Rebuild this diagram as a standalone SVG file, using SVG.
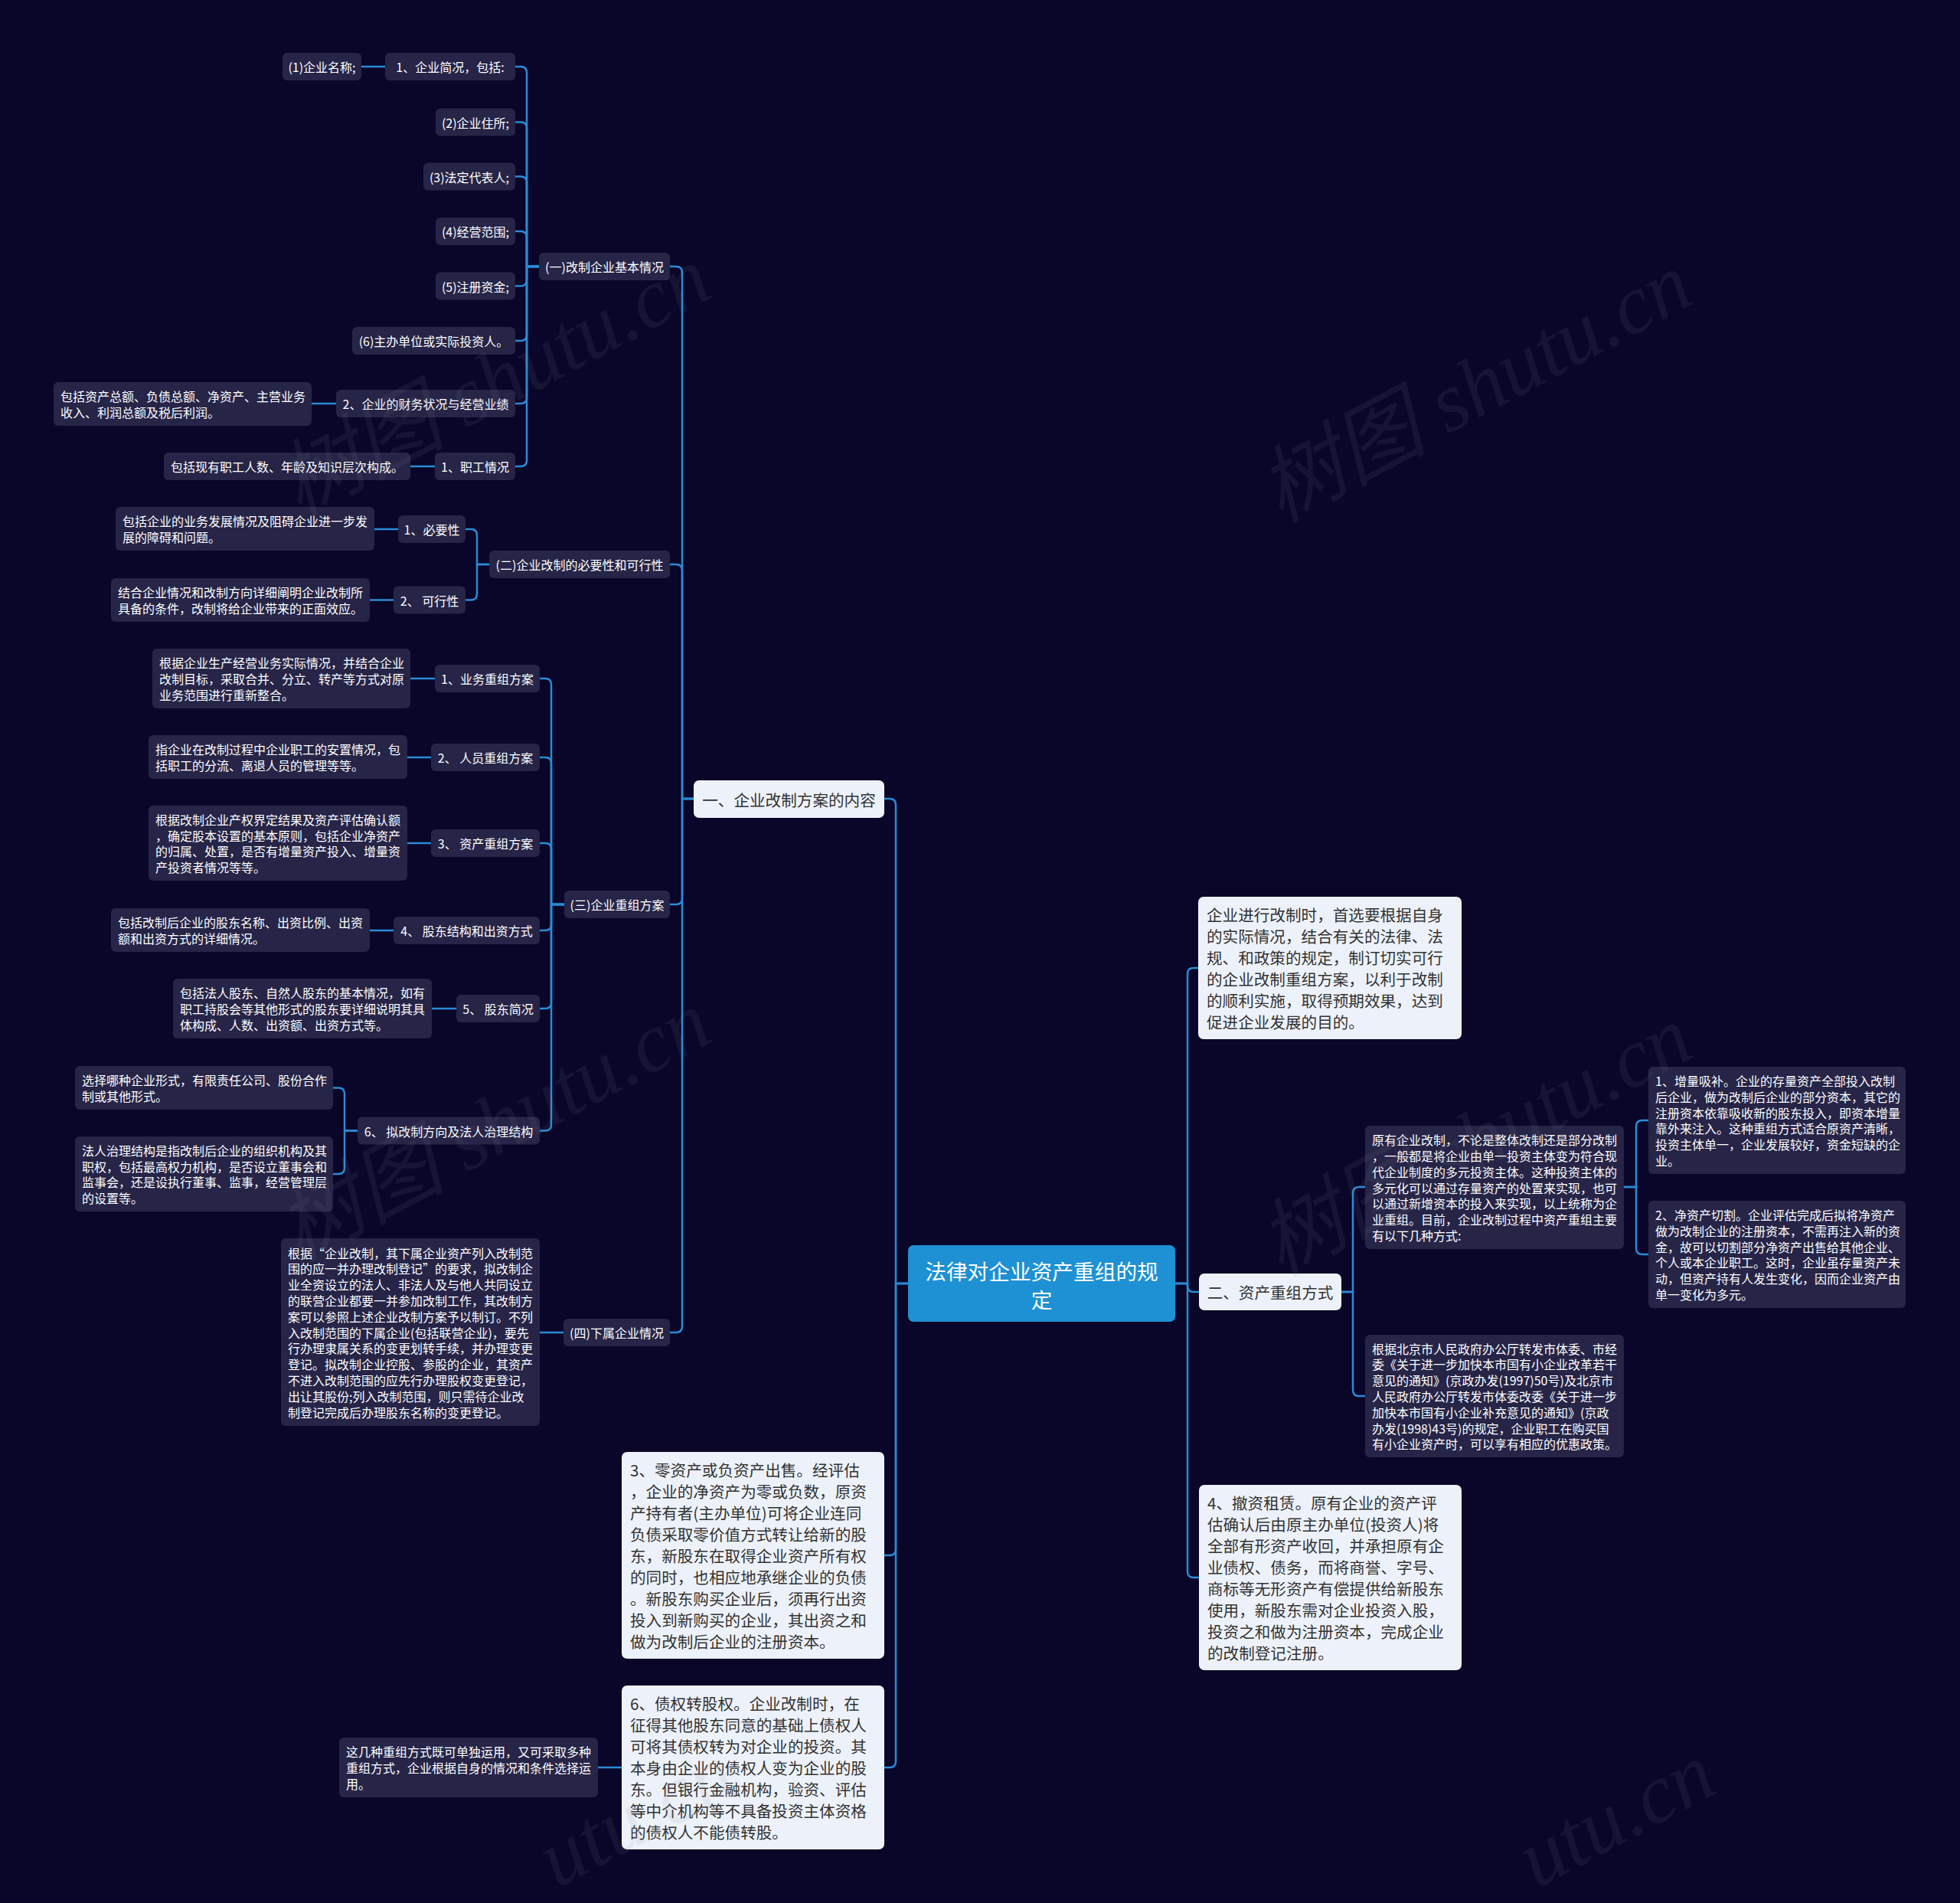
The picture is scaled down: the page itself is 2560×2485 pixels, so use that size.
<svg xmlns="http://www.w3.org/2000/svg" width="2560" height="2485" viewBox="0 0 2560 2485">
<style>
.dk{fill:#262447}
.wt{fill:#edf2fa}
.ctr{fill:#1d91d3}
.d{font-family:"Noto Sans CJK SC","Noto Sans",sans-serif;font-size:16px;fill:#ffffff;dominant-baseline:central}
.dc{font-family:"Noto Sans CJK SC","Noto Sans",sans-serif;font-size:16px;fill:#ffffff;dominant-baseline:central;text-anchor:middle}
.w{font-family:"Noto Sans CJK SC","Noto Sans",sans-serif;font-size:20.6px;fill:#333333;dominant-baseline:central}
.wc{font-family:"Noto Sans CJK SC","Noto Sans",sans-serif;font-size:20.6px;fill:#333333;dominant-baseline:central;text-anchor:middle}
.c{font-family:"Noto Sans CJK SC","Noto Sans",sans-serif;font-size:27.7px;fill:#ffffff;dominant-baseline:central;text-anchor:middle}
.ln{fill:none;stroke:#2a8bd4;stroke-width:2.5;stroke-linecap:round;stroke-linejoin:round}
.wm{font-family:"Liberation Serif","Noto Sans CJK SC",serif;font-size:110px;font-style:italic;fill:#8a8a9a;opacity:0.1;text-anchor:middle;dominant-baseline:central}
</style>
<rect x="0" y="0" width="2560" height="2485" fill="#090629"/>

<g id="connectors">
<path class="ln" d="M1186,1676 H1170 V1051 Q1170,1043 1162,1043 H1155"/>
<path class="ln" d="M1186,1676 H1170 V2023 Q1170,2031 1162,2031 H1155"/>
<path class="ln" d="M1186,1676 H1170 V2300 Q1170,2308 1162,2308 H1155"/>
<path class="ln" d="M1535,1676 H1551 V1272 Q1551,1264 1559,1264 H1565"/>
<path class="ln" d="M1535,1676 H1551 V1679 Q1551,1687 1559,1687 H1566"/>
<path class="ln" d="M1535,1676 H1551 V2052 Q1551,2060 1559,2060 H1566"/>
<path class="ln" d="M1752,1687 H1767 V1558 Q1767,1550 1775,1550 H1783"/>
<path class="ln" d="M1752,1687 H1767 V1815 Q1767,1823 1775,1823 H1783"/>
<path class="ln" d="M2121,1550 H2137 V1471 Q2137,1463 2145,1463 H2153"/>
<path class="ln" d="M2121,1550 H2137 V1630 Q2137,1638 2145,1638 H2153"/>
<path class="ln" d="M906,1043 H891 V356 Q891,348 883,348 H875"/>
<path class="ln" d="M906,1043 H891 V745 Q891,737 883,737 H875"/>
<path class="ln" d="M906,1043 H891 V1173 Q891,1181 883,1181 H875"/>
<path class="ln" d="M906,1043 H891 V1732 Q891,1740 883,1740 H875"/>
<path class="ln" d="M704,348 H688 V95 Q688,87 680,87 H673"/>
<path class="ln" d="M704,348 H688 V167.5 Q688,159.5 680,159.5 H673"/>
<path class="ln" d="M704,348 H688 V238.5 Q688,230.5 680,230.5 H673"/>
<path class="ln" d="M704,348 H688 V310 Q688,302 680,302 H673"/>
<path class="ln" d="M704,348 H688 V365.5 Q688,373.5 680,373.5 H673"/>
<path class="ln" d="M704,348 H688 V437 Q688,445 680,445 H673"/>
<path class="ln" d="M704,348 H688 V519 Q688,527 680,527 H673"/>
<path class="ln" d="M704,348 H688 V601 Q688,609 680,609 H673"/>
<path class="ln" d="M639,737 H623 V699 Q623,691 615,691 H608"/>
<path class="ln" d="M639,737 H623 V775.5 Q623,783.5 615,783.5 H608"/>
<path class="ln" d="M737,1181 H720 V894 Q720,886 712,886 H705"/>
<path class="ln" d="M737,1181 H720 V997 Q720,989 712,989 H705"/>
<path class="ln" d="M737,1181 H720 V1109 Q720,1101 712,1101 H705"/>
<path class="ln" d="M737,1181 H720 V1207 Q720,1215 712,1215 H705"/>
<path class="ln" d="M737,1181 H720 V1309 Q720,1317 712,1317 H705"/>
<path class="ln" d="M737,1181 H720 V1468.5 Q720,1476.5 712,1476.5 H705"/>
<path class="ln" d="M467,1476.5 H450 V1428.5 Q450,1420.5 442,1420.5 H435"/>
<path class="ln" d="M467,1476.5 H450 V1525 Q450,1533 442,1533 H435"/>
<path class="ln" d="M503,87 H472"/>
<path class="ln" d="M439,527 H407"/>
<path class="ln" d="M568,609 H536"/>
<path class="ln" d="M520,691 H489"/>
<path class="ln" d="M514,783.5 H483"/>
<path class="ln" d="M568,886 H536"/>
<path class="ln" d="M563,989 H532"/>
<path class="ln" d="M563,1101 H532"/>
<path class="ln" d="M514,1215 H483"/>
<path class="ln" d="M596,1317 H564"/>
<path class="ln" d="M736,1740 H705"/>
<path class="ln" d="M812,2308 H781"/>
</g>

<g id="root">
<rect class="ctr" x="1186" y="1626" width="349" height="100" rx="7"/>
<text class="c" x="1360.5" y="1659">法律对企业资产重组的规</text>
<text class="c" x="1360.5" y="1696">定</text>
</g>

<g id="n34"><rect class="wt" x="906" y="1019" width="249" height="49" rx="7"/><text class="wc" x="1030.5" y="1043.5">一、企业改制方案的内容</text></g>

<g id="n6"><rect class="dk" x="704" y="330" width="171" height="36" rx="6"/><text class="dc" x="789.5" y="348">(一)改制企业基本情况</text></g>
<g id="n2"><rect class="dk" x="503" y="69" width="170" height="36" rx="6"/><text class="dc" x="588" y="87">1、企业简况，包括:</text></g>
<g id="n1"><rect class="dk" x="369" y="69" width="103" height="36" rx="6"/><text class="dc" x="420.5" y="87">(1)企业名称;</text></g>
<g id="n3"><rect class="dk" x="569" y="141.5" width="104" height="36" rx="6"/><text class="dc" x="621" y="159.5">(2)企业住所;</text></g>
<g id="n4"><rect class="dk" x="553" y="212.5" width="120" height="36" rx="6"/><text class="dc" x="613" y="230.5">(3)法定代表人;</text></g>
<g id="n5"><rect class="dk" x="569" y="284" width="104" height="36" rx="6"/><text class="dc" x="621" y="302">(4)经营范围;</text></g>
<g id="n7"><rect class="dk" x="569" y="355.5" width="104" height="36" rx="6"/><text class="dc" x="621" y="373.5">(5)注册资金;</text></g>
<g id="n8"><rect class="dk" x="460" y="427" width="213" height="36" rx="6"/><text class="dc" x="566.5" y="445">(6)主办单位或实际投资人。</text></g>
<g id="n9"><rect class="dk" x="439" y="509" width="234" height="36" rx="6"/><text class="dc" x="556" y="527">2、企业的财务状况与经营业绩</text></g>
<g id="n10"><rect class="dk" x="70" y="499" width="337" height="57" rx="6"/><text class="d"><tspan x="79" y="517.1">包括资产总额、负债总额、净资产、主营业务</tspan><tspan x="79" y="537.9">收入、利润总额及税后利润。</tspan></text></g>
<g id="n11"><rect class="dk" x="568" y="591" width="105" height="36" rx="6"/><text class="dc" x="620.5" y="609">1、职工情况</text></g>
<g id="n12"><rect class="dk" x="214" y="591" width="322" height="36" rx="6"/><text class="dc" x="375" y="609">包括现有职工人数、年龄及知识层次构成。</text></g>

<g id="n13"><rect class="dk" x="639" y="719" width="236" height="36" rx="6"/><text class="dc" x="757" y="737">(二)企业改制的必要性和可行性</text></g>
<g id="n14"><rect class="dk" x="520" y="673" width="88" height="36" rx="6"/><text class="dc" x="564" y="691">1、必要性</text></g>
<g id="n15"><rect class="dk" x="151" y="662" width="338" height="57" rx="6"/><text class="d"><tspan x="160" y="680.1">包括企业的业务发展情况及阻碍企业进一步发</tspan><tspan x="160" y="700.9">展的障碍和问题。</tspan></text></g>
<g id="n16"><rect class="dk" x="514" y="765.5" width="94" height="36" rx="6"/><text class="dc" x="561" y="783.5">2、 可行性</text></g>
<g id="n17"><rect class="dk" x="145" y="755" width="338" height="57" rx="6"/><text class="d"><tspan x="154" y="773.1">结合企业情况和改制方向详细阐明企业改制所</tspan><tspan x="154" y="793.9">具备的条件，改制将给企业带来的正面效应。</tspan></text></g>

<g id="n18"><rect class="dk" x="737" y="1163" width="138" height="36" rx="6"/><text class="dc" x="806" y="1181">(三)企业重组方案</text></g>
<g id="n19"><rect class="dk" x="568" y="868" width="137" height="36" rx="6"/><text class="dc" x="636.5" y="886">1、业务重组方案</text></g>
<g id="n20"><rect class="dk" x="199" y="847" width="337" height="78" rx="6"/><text class="d"><tspan x="208" y="865.2">根据企业生产经营业务实际情况，并结合企业</tspan><tspan x="208" y="886">改制目标，采取合并、分立、转产等方式对原</tspan><tspan x="208" y="906.8">业务范围进行重新整合。</tspan></text></g>
<g id="n21"><rect class="dk" x="563" y="971" width="142" height="36" rx="6"/><text class="dc" x="634" y="989">2、 人员重组方案</text></g>
<g id="n22"><rect class="dk" x="194" y="960" width="338" height="57" rx="6"/><text class="d"><tspan x="203" y="978.1">指企业在改制过程中企业职工的安置情况，包</tspan><tspan x="203" y="998.9">括职工的分流、离退人员的管理等等。</tspan></text></g>
<g id="n23"><rect class="dk" x="563" y="1083" width="142" height="36" rx="6"/><text class="dc" x="634" y="1101">3、 资产重组方案</text></g>
<g id="n24"><rect class="dk" x="194" y="1052" width="338" height="98" rx="6"/><text class="d"><tspan x="203" y="1069.8">根据改制企业产权界定结果及资产评估确认额</tspan><tspan x="203" y="1090.6">，确定股本设置的基本原则，包括企业净资产</tspan><tspan x="203" y="1111.4">的归属、处置，是否有增量资产投入、增量资</tspan><tspan x="203" y="1132.2">产投资者情况等等。</tspan></text></g>
<g id="n25"><rect class="dk" x="514" y="1197" width="191" height="36" rx="6"/><text class="dc" x="609.5" y="1215">4、 股东结构和出资方式</text></g>
<g id="n26"><rect class="dk" x="145" y="1186" width="338" height="57" rx="6"/><text class="d"><tspan x="154" y="1204.1">包括改制后企业的股东名称、出资比例、出资</tspan><tspan x="154" y="1224.9">额和出资方式的详细情况。</tspan></text></g>
<g id="n27"><rect class="dk" x="596" y="1299" width="109" height="36" rx="6"/><text class="dc" x="650.5" y="1317">5、 股东简况</text></g>
<g id="n28"><rect class="dk" x="226" y="1278" width="338" height="78" rx="6"/><text class="d"><tspan x="235" y="1296.2">包括法人股东、自然人股东的基本情况，如有</tspan><tspan x="235" y="1317">职工持股会等其他形式的股东要详细说明其具</tspan><tspan x="235" y="1337.8">体构成、人数、出资额、出资方式等。</tspan></text></g>
<g id="n29"><rect class="dk" x="467" y="1458.5" width="238" height="36" rx="6"/><text class="dc" x="586" y="1476.5">6、 拟改制方向及法人治理结构</text></g>
<g id="n30"><rect class="dk" x="98" y="1392" width="337" height="57" rx="6"/><text class="d"><tspan x="107" y="1410.1">选择哪种企业形式，有限责任公司、股份合作</tspan><tspan x="107" y="1430.9">制或其他形式。</tspan></text></g>
<g id="n31"><rect class="dk" x="98" y="1484" width="337" height="98" rx="6"/><text class="d"><tspan x="107" y="1501.8">法人治理结构是指改制后企业的组织机构及其</tspan><tspan x="107" y="1522.6">职权，包括最高权力机构，是否设立董事会和</tspan><tspan x="107" y="1543.4">监事会，还是设执行董事、监事，经营管理层</tspan><tspan x="107" y="1564.2">的设置等。</tspan></text></g>

<g id="n32"><rect class="dk" x="736" y="1722" width="139" height="36" rx="6"/><text class="dc" x="805.5" y="1740">(四)下属企业情况</text></g>
<g id="n33"><rect class="dk" x="367" y="1617" width="338" height="245" rx="6"/><text class="d"><tspan x="376" y="1635.5">根据“企业改制，其下属企业资产列入改制范</tspan><tspan x="376" y="1656.3">围的应一并办理改制登记”的要求，拟改制企</tspan><tspan x="376" y="1677.1">业全资设立的法人、非法人及与他人共同设立</tspan><tspan x="376" y="1697.9">的联营企业都要一并参加改制工作，其改制方</tspan><tspan x="376" y="1718.7">案可以参照上述企业改制方案予以制订。不列</tspan><tspan x="376" y="1739.5">入改制范围的下属企业(包括联营企业)，要先</tspan><tspan x="376" y="1760.3">行办理隶属关系的变更划转手续，并办理变更</tspan><tspan x="376" y="1781.1">登记。拟改制企业控股、参股的企业，其资产</tspan><tspan x="376" y="1801.9">不进入改制范围的应先行办理股权变更登记，</tspan><tspan x="376" y="1822.7">出让其股份;列入改制范围，则只需待企业改</tspan><tspan x="376" y="1843.5">制登记完成后办理股东名称的变更登记。</tspan></text></g>

<g id="n35"><rect class="wt" x="812" y="1896" width="343" height="270" rx="7"/><text class="w"><tspan x="823" y="1919.4">3、零资产或负资产出售。经评估</tspan><tspan x="823" y="1947.3">，企业的净资产为零或负数，原资</tspan><tspan x="823" y="1975.2">产持有者(主办单位)可将企业连同</tspan><tspan x="823" y="2003.1">负债采取零价值方式转让给新的股</tspan><tspan x="823" y="2031">东，新股东在取得企业资产所有权</tspan><tspan x="823" y="2058.9">的同时，也相应地承继企业的负债</tspan><tspan x="823" y="2086.8">。新股东购买企业后，须再行出资</tspan><tspan x="823" y="2114.7">投入到新购买的企业，其出资之和</tspan><tspan x="823" y="2142.6">做为改制后企业的注册资本。</tspan></text></g>

<g id="n36"><rect class="wt" x="812" y="2201" width="343" height="214" rx="7"/><text class="w"><tspan x="823" y="2224.3">6、债权转股权。企业改制时，在</tspan><tspan x="823" y="2252.2">征得其他股东同意的基础上债权人</tspan><tspan x="823" y="2280.1">可将其债权转为对企业的投资。其</tspan><tspan x="823" y="2308">本身由企业的债权人变为企业的股</tspan><tspan x="823" y="2335.9">东。但银行金融机构，验资、评估</tspan><tspan x="823" y="2363.8">等中介机构等不具备投资主体资格</tspan><tspan x="823" y="2391.7">的债权人不能债转股。</tspan></text></g>

<g id="n37"><rect class="dk" x="443" y="2269" width="338" height="78" rx="6"/><text class="d"><tspan x="452" y="2287.2">这几种重组方式既可单独运用，又可采取多种</tspan><tspan x="452" y="2308">重组方式，企业根据自身的情况和条件选择运</tspan><tspan x="452" y="2328.8">用。</tspan></text></g>

<g id="n39"><rect class="wt" x="1565" y="1171" width="344" height="186" rx="7"/><text class="w"><tspan x="1576" y="1194.25">企业进行改制时，首选要根据自身</tspan><tspan x="1576" y="1222.15">的实际情况，结合有关的法律、法</tspan><tspan x="1576" y="1250.05">规、和政策的规定，制订切实可行</tspan><tspan x="1576" y="1277.95">的企业改制重组方案，以利于改制</tspan><tspan x="1576" y="1305.85">的顺利实施，取得预期效果，达到</tspan><tspan x="1576" y="1333.75">促进企业发展的目的。</tspan></text></g>

<g id="n40"><rect class="wt" x="1566" y="1663" width="186" height="48" rx="7"/><text class="wc" x="1659" y="1687">二、资产重组方式</text></g>

<g id="n41"><rect class="dk" x="1783" y="1470" width="338" height="161" rx="6"/><text class="d"><tspan x="1792" y="1488.1">原有企业改制，不论是整体改制还是部分改制</tspan><tspan x="1792" y="1508.9">，一般都是将企业由单一投资主体变为符合现</tspan><tspan x="1792" y="1529.7">代企业制度的多元投资主体。这种投资主体的</tspan><tspan x="1792" y="1550.5">多元化可以通过存量资产的处置来实现，也可</tspan><tspan x="1792" y="1571.3">以通过新增资本的投入来实现，以上统称为企</tspan><tspan x="1792" y="1592.1">业重组。目前，企业改制过程中资产重组主要</tspan><tspan x="1792" y="1612.9">有以下几种方式:</tspan></text></g>

<g id="n42"><rect class="dk" x="2153" y="1393" width="336" height="140" rx="6"/><text class="d"><tspan x="2162" y="1411">1、增量吸补。企业的存量资产全部投入改制</tspan><tspan x="2162" y="1431.8">后企业，做为改制后企业的部分资本，其它的</tspan><tspan x="2162" y="1452.6">注册资本依靠吸收新的股东投入，即资本增量</tspan><tspan x="2162" y="1473.4">靠外来注入。这种重组方式适合原资产清晰，</tspan><tspan x="2162" y="1494.2">投资主体单一，企业发展较好，资金短缺的企</tspan><tspan x="2162" y="1515">业。</tspan></text></g>

<g id="n43"><rect class="dk" x="2153" y="1568" width="336" height="140" rx="6"/><text class="d"><tspan x="2162" y="1586">2、净资产切割。企业评估完成后拟将净资产</tspan><tspan x="2162" y="1606.8">做为改制企业的注册资本，不需再注入新的资</tspan><tspan x="2162" y="1627.6">金，故可以切割部分净资产出售给其他企业、</tspan><tspan x="2162" y="1648.4">个人或本企业职工。这时，企业虽存量资产未</tspan><tspan x="2162" y="1669.2">动，但资产持有人发生变化，因而企业资产由</tspan><tspan x="2162" y="1690">单一变化为多元。</tspan></text></g>

<g id="n44"><rect class="dk" x="1783" y="1743" width="338" height="160" rx="6"/><text class="d"><tspan x="1792" y="1760.6">根据北京市人民政府办公厅转发市体委、市经</tspan><tspan x="1792" y="1781.4">委《关于进一步加快本市国有小企业改革若干</tspan><tspan x="1792" y="1802.2">意见的通知》(京政办发(1997)50号)及北京市</tspan><tspan x="1792" y="1823">人民政府办公厅转发市体委改委《关于进一步</tspan><tspan x="1792" y="1843.8">加快本市国有小企业补充意见的通知》(京政</tspan><tspan x="1792" y="1864.6">办发(1998)43号)的规定，企业职工在购买国</tspan><tspan x="1792" y="1885.4">有小企业资产时，可以享有相应的优惠政策。</tspan></text></g>

<g id="n45"><rect class="wt" x="1566" y="1939" width="343" height="242" rx="7"/><text class="w"><tspan x="1577" y="1962.35">4、撤资租赁。原有企业的资产评</tspan><tspan x="1577" y="1990.25">估确认后由原主办单位(投资人)将</tspan><tspan x="1577" y="2018.15">全部有形资产收回，并承担原有企</tspan><tspan x="1577" y="2046.05">业债权、债务，而将商誉、字号、</tspan><tspan x="1577" y="2073.95">商标等无形资产有偿提供给新股东</tspan><tspan x="1577" y="2101.85">使用，新股东需对企业投资入股，</tspan><tspan x="1577" y="2129.75">投资之和做为注册资本，完成企业</tspan><tspan x="1577" y="2157.65">的改制登记注册。</tspan></text></g>

<g id="watermarks">
<text class="wm" transform="translate(645,498) rotate(-28)">树图 shutu.cn</text>
<text class="wm" transform="translate(1927,506) rotate(-28)">树图 shutu.cn</text>
<text class="wm" transform="translate(645,1470) rotate(-28)">树图 shutu.cn</text>
<text class="wm" transform="translate(1927,1490) rotate(-28)">树图 shutu.cn</text>
<text class="wm" transform="translate(830,2370) rotate(-28)">utu.cn</text>
<text class="wm" transform="translate(2110,2370) rotate(-28)">utu.cn</text>
</g>
</svg>
